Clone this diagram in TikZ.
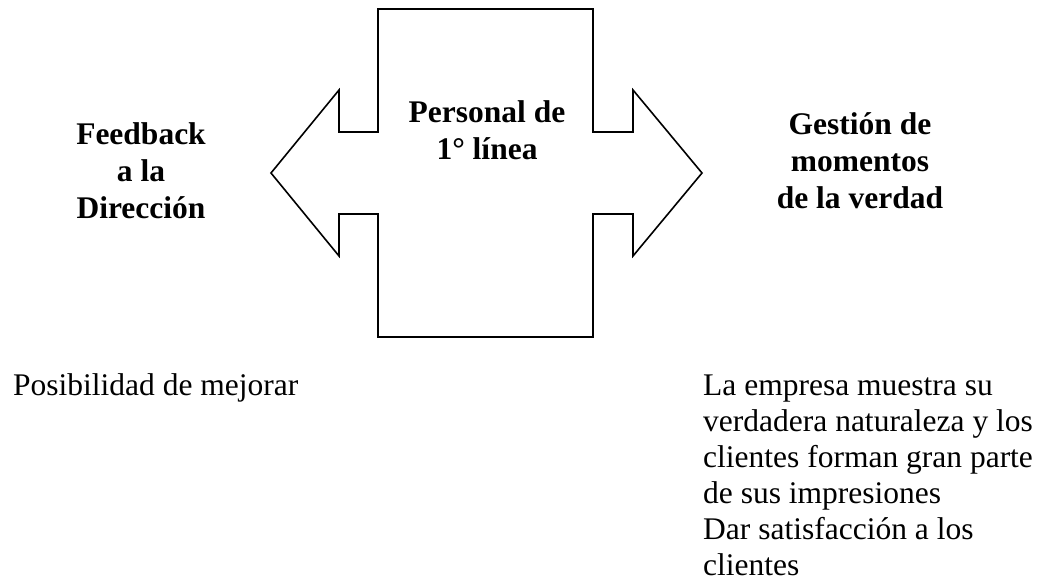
\documentclass[tikz,border=0pt]{standalone}
\usepackage{fontspec}
\setmainfont{Liberation Serif}
\begin{document}
\begin{tikzpicture}[x=1pt,y=-1pt,
        titulo/.style={font=\fontsize{31.5}{37}\selectfont\bfseries, align=center, inner sep=0pt, anchor=base},
        nota/.style={font=\fontsize{31.5}{36}\selectfont, align=left, inner sep=0pt, anchor=base west}]
    \useasboundingbox (0,0) rectangle (1041,584);
    % la cruz con las dos flechas
    \draw[line width=1.6pt, line join=miter] (378,9) -- (593,9) -- (593,132) -- (633,132) -- (633,90)
        -- (702,173) -- (633,256) -- (633,214) -- (593,214) -- (593,337) -- (378,337)
        -- (378,214) -- (339,214) -- (339,256) -- (271,173) -- (339,90) -- (339,132)
        -- (378,132) -- cycle;
    % anchor=base toma la ultima linea
    \node[titulo] (personal) at (487,159) {Personal de\\1° línea};
    \node[titulo] (feedback) at (141,218) {Feedback\\a la\\Dirección};
    \node[titulo] (gestion) at (860,208) {Gestión de\\momentos\\de la verdad};
    \node[nota] (mejorar) at (13,395) {Posibilidad de mejorar};
    \node[nota] (verdad) at (703,575) {La empresa muestra su\\verdadera naturaleza y los\\clientes forman gran parte\\de sus impresiones\\Dar satisfacción a los\\clientes};
\end{tikzpicture}
\end{document}
